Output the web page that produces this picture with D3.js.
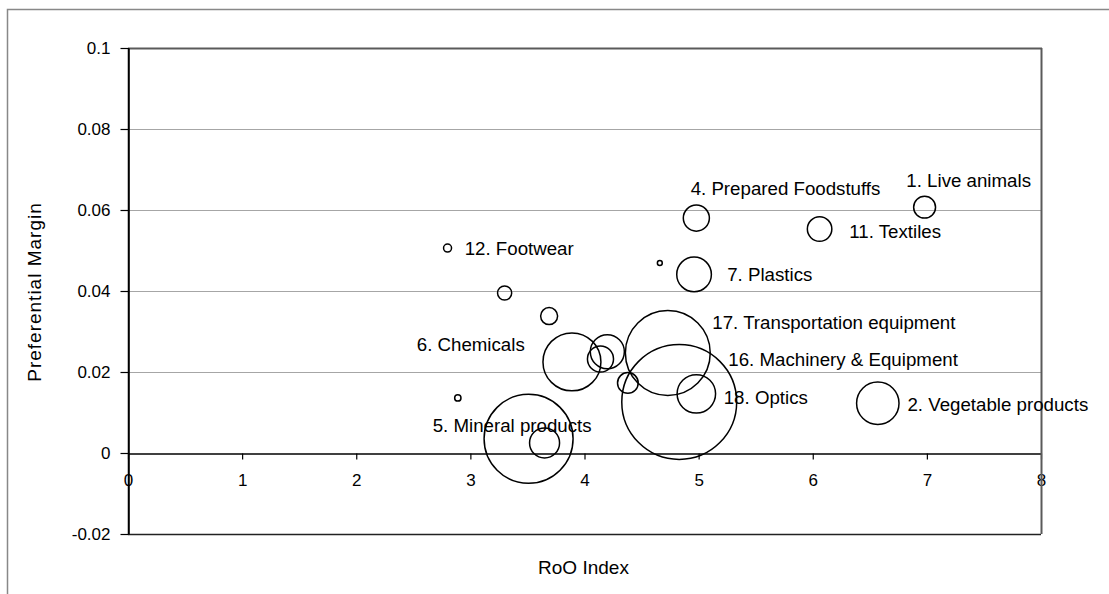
<!DOCTYPE html>
<html>
<head>
<meta charset="utf-8">
<script src="https://cdn.jsdelivr.net/npm/d3@7"></script>
<style>
  html, body { margin: 0; padding: 0; background: #fff; }
  svg { display: block; font-family: "Liberation Sans", Arial, sans-serif; }
</style>
</head>
<body>
<svg id="chart" width="1109" height="594"></svg>
<script>
// ---- data ----
const roIndex = [6.98, 4.98, 6.06, 2.80, 4.66, 4.96, 3.30, 3.69, 3.89, 4.20, 4.14, 4.38, 4.73, 4.83, 4.98, 6.57, 2.89, 3.51, 3.65];
const prefMargin = [0.0607, 0.0580, 0.0553, 0.0506, 0.0469, 0.0441, 0.0395, 0.0338, 0.0225, 0.0250, 0.0232, 0.0173, 0.0247, 0.0126, 0.0146, 0.0123, 0.0136, 0.0035, 0.0025];
const bubbleSize = [1.2, 1.7, 1.5, 0.16, 0.06, 3.0, 0.5, 0.72, 8.4, 2.9, 1.7, 1.07, 18.0, 33.0, 3.7, 4.5, 0.1, 19.8, 2.25];

const labelText = ["1. Live animals", "4. Prepared Foodstuffs", "11. Textiles", "12. Footwear", "7. Plastics",
  "17. Transportation equipment", "6. Chemicals", "16. Machinery & Equipment", "18. Optics",
  "2. Vegetable products", "5. Mineral products"];
const labelX = [6.82, 4.93, 6.32, 2.95, 5.25, 5.12, 2.53, 5.26, 5.22, 6.83, 2.67];
const labelY = [0.0672, 0.0654, 0.0548, 0.0506, 0.0440, 0.0321, 0.0267, 0.0230, 0.0136, 0.0119, 0.0067];

const xTicks = [0, 1, 2, 3, 4, 5, 6, 7, 8];
const xTickLabels = ["0", "1", "2", "3", "4", "5", "6", "7", "8"];
const yTicks = [-0.02, 0, 0.02, 0.04, 0.06, 0.08, 0.1];
const yTickLabels = ["-0.02", "0", "0.02", "0.04", "0.06", "0.08", "0.1"];
const xTitle = "RoO Index";
const yTitle = "Preferential Margin";

// ---- layout ----
const svg = d3.select("#chart");
const L = 128, R = 1041, T = 48, B = 534;
const x = d3.scaleLinear().domain([0, 8]).range([L, R]);
const y = d3.scaleLinear().domain([-0.02, 0.1]).range([B, T]);
const r = d3.scaleSqrt().domain([0, 36]).range([0, 60]);
const FS = 17;      // tick labels
const LFS = 18.7;   // data labels
const TFS = 19;     // axis titles

// outer chart border (clipped by window)
svg.append("rect").attr("x", 7.5).attr("y", 9.5).attr("width", 1300).attr("height", 800)
  .attr("fill", "none").attr("stroke", "#888").attr("stroke-width", 1.5);

// gridlines
svg.append("g").selectAll("line").data(yTicks.filter(v => v > 0 && v < 0.1)).join("line")
  .attr("x1", L).attr("x2", R).attr("y1", d => Math.round(y(d)) + 0.5).attr("y2", d => Math.round(y(d)) + 0.5)
  .attr("stroke", "#a6a6a6").attr("stroke-width", 1);

// plot frame: top and bottom
svg.append("line").attr("x1", L).attr("x2", R + 1).attr("y1", T + 0.5).attr("y2", T + 0.5)
  .attr("stroke", "#5a5a5a").attr("stroke-width", 2);
svg.append("line").attr("x1", L).attr("x2", R).attr("y1", B + 0.5).attr("y2", B + 0.5)
  .attr("stroke", "#222").attr("stroke-width", 1.5);

// y axis
const yAxis = d3.axisLeft(y).tickValues(yTicks).tickSize(8).tickSizeOuter(0)
  .tickFormat((d, i) => yTickLabels[i]);
const gy = svg.append("g").attr("transform", `translate(${L + 0.5},0)`).call(yAxis);
gy.select(".domain").attr("stroke", "#000").attr("stroke-width", 1.5);
gy.selectAll(".tick line").attr("stroke", "#000").attr("stroke-width", 1.2);
gy.selectAll(".tick text").attr("x", -18).attr("font-size", FS).attr("fill", "#000")
  .attr("font-family", "Liberation Sans, Arial, sans-serif");

// x axis along y = 0
const xAxis = d3.axisBottom(x).tickValues(xTicks).tickSize(6).tickSizeOuter(0)
  .tickFormat((d, i) => xTickLabels[i]);
const gx = svg.append("g").attr("transform", `translate(0,${Math.round(y(0)) + 0.5})`).call(xAxis);
gx.select(".domain").attr("stroke", "#000").attr("stroke-width", 1.5);
gx.selectAll(".tick line").attr("stroke", "#000").attr("stroke-width", 1.2);
gx.selectAll(".tick text").attr("y", 20).attr("font-size", FS).attr("fill", "#000")
  .attr("font-family", "Liberation Sans, Arial, sans-serif");

// left axis line and right frame drawn over x labels
svg.append("line").attr("x1", L + 0.5).attr("x2", L + 0.5).attr("y1", T).attr("y2", B)
  .attr("stroke", "#000").attr("stroke-width", 1.5);
svg.append("line").attr("x1", R + 0.5).attr("x2", R + 0.5).attr("y1", T).attr("y2", B)
  .attr("stroke", "#5a5a5a").attr("stroke-width", 2);

// bubbles
svg.append("g").selectAll("circle").data(roIndex).join("circle")
  .attr("cx", (d, i) => x(d)).attr("cy", (d, i) => y(prefMargin[i]))
  .attr("r", (d, i) => r(bubbleSize[i]))
  .attr("fill", "none").attr("stroke", "#000").attr("stroke-width", 1.5);

// labels
svg.append("g").selectAll("text").data(labelText).join("text")
  .attr("x", (d, i) => x(labelX[i])).attr("y", (d, i) => y(labelY[i]))
  .attr("dominant-baseline", "central").attr("font-size", LFS).attr("fill", "#000")
  .text(d => d);

// axis titles
svg.append("text").attr("x", (L + R) / 2 - 1).attr("y", 567).attr("text-anchor", "middle")
  .attr("dominant-baseline", "central").attr("font-size", TFS).text(xTitle);
svg.append("text").attr("transform", `translate(34,292) rotate(-90)`).attr("text-anchor", "middle")
  .attr("dominant-baseline", "central").attr("font-size", TFS).attr("letter-spacing", 1).text(yTitle);
</script>
</body>
</html>
